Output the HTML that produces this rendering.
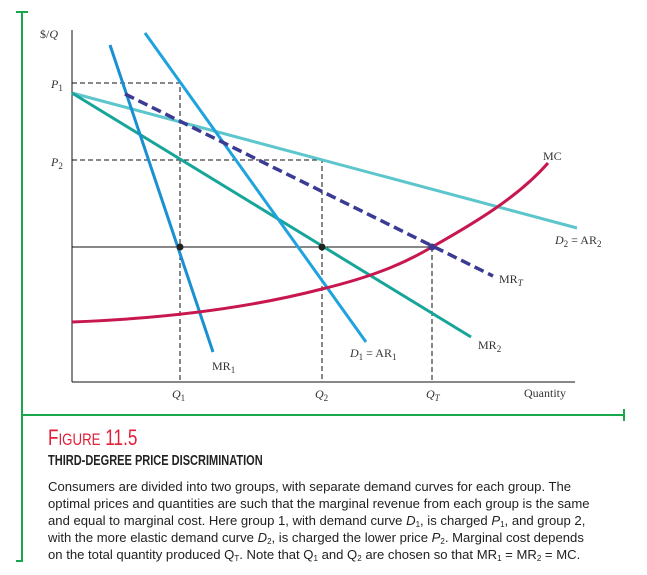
<!DOCTYPE html>
<html><head><meta charset="utf-8"><style>
body{margin:0;width:647px;height:575px;background:#fff;overflow:hidden;position:relative;font-family:"Liberation Sans",sans-serif}
svg{position:absolute;left:0;top:0}
.cap{position:absolute;left:48px;color:#222}
sub{font-size:8px;line-height:0;vertical-align:-2px}
</style></head><body>
<svg width="647" height="575" font-family="Liberation Serif, serif" font-size="12" fill="#333">
<line x1="22" y1="12" x2="22" y2="562" stroke="#1aa64a" stroke-width="2"/>
<line x1="16" y1="12" x2="28" y2="12" stroke="#1aa64a" stroke-width="2"/>
<line x1="16" y1="561" x2="23" y2="561" stroke="#1aa64a" stroke-width="2"/>
<line x1="22" y1="415" x2="625" y2="415" stroke="#1aa64a" stroke-width="2"/>
<line x1="624" y1="409" x2="624" y2="421" stroke="#1aa64a" stroke-width="2"/>
<line x1="72" y1="30" x2="72" y2="382" stroke="#111" stroke-width="1"/>
<line x1="72" y1="382" x2="575" y2="382" stroke="#111" stroke-width="1"/>
<g stroke="#111" stroke-width="1" stroke-dasharray="5,3" fill="none">
<path d="M72 83H180V382"/><path d="M72 160H322V382"/><path d="M432 247V382"/>
</g>
<line x1="72" y1="247" x2="432" y2="247" stroke="#111" stroke-width="1"/>
<line x1="72" y1="93" x2="577" y2="228" stroke="#5cc6cc" stroke-width="3"/>
<line x1="72" y1="93" x2="471" y2="337" stroke="#17a59a" stroke-width="3"/>
<line x1="145" y1="33" x2="366" y2="342" stroke="#1ea3de" stroke-width="3"/>
<line x1="110" y1="45" x2="213" y2="352" stroke="#1a8fd2" stroke-width="3"/>
<line x1="125" y1="94" x2="493" y2="276" stroke="#3b3b93" stroke-width="3.5" stroke-dasharray="10,5"/>
<path d="M72 322 C180 318 260 305 322 289 C380 275 410 260 432 247 C480 220 520 195 548 163" stroke="#c8174f" stroke-width="3" fill="none"/>
<circle cx="180" cy="247" r="3.5" fill="#222"/><circle cx="322" cy="247" r="3.5" fill="#222"/><circle cx="432" cy="247" r="3.5" fill="#3b3b93"/>
<text x="40" y="38">$/<tspan font-style="italic">Q</tspan></text>
<text x="51" y="88" font-style="italic">P<tspan font-size="9" dy="3" font-style="normal">1</tspan></text>
<text x="51" y="166" font-style="italic">P<tspan font-size="9" dy="3" font-style="normal">2</tspan></text>
<text x="172" y="398" font-style="italic">Q<tspan font-size="9" dy="3" font-style="normal">1</tspan></text>
<text x="315" y="398" font-style="italic">Q<tspan font-size="9" dy="3" font-style="normal">2</tspan></text>
<text x="426" y="398" font-style="italic">Q<tspan font-size="9" dy="3">T</tspan></text>
<text x="524" y="397">Quantity</text>
<text x="543" y="160">MC</text>
<text x="555" y="244"><tspan font-style="italic">D</tspan><tspan font-size="9" dy="3">2</tspan><tspan dy="-3"> = AR</tspan><tspan font-size="9" dy="3">2</tspan></text>
<text x="499" y="283">MR<tspan font-size="9" dy="3" font-style="italic">T</tspan></text>
<text x="478" y="349">MR<tspan font-size="9" dy="3">2</tspan></text>
<text x="350" y="357"><tspan font-style="italic">D</tspan><tspan font-size="9" dy="3">1</tspan><tspan dy="-3"> = AR</tspan><tspan font-size="9" dy="3">1</tspan></text>
<text x="212" y="370">MR<tspan font-size="9" dy="3">1</tspan></text>
</svg>
<div class="cap" style="top:425px;color:#e0203a;font-size:22px;transform:scaleX(0.78);transform-origin:left;white-space:nowrap">F<span style="font-size:17px">IGURE</span> 11.5</div>
<div class="cap" style="top:453px;font-size:14.5px;font-weight:bold;transform:scaleX(0.76);transform-origin:left;white-space:nowrap">THIRD-DEGREE PRICE DISCRIMINATION</div>
<div class="cap" style="top:478px;font-size:13.1px;line-height:17px;width:600px;white-space:nowrap">
Consumers are divided into two groups, with separate demand curves for each group. The<br>
optimal prices and quantities are such that the marginal revenue from each group is the same<br>
and equal to marginal cost. Here group 1, with demand curve <i>D</i><sub>1</sub>, is charged <i>P</i><sub>1</sub>, and group 2,<br>
with the more elastic demand curve <i>D</i><sub>2</sub>, is charged the lower price <i>P</i><sub>2</sub>. Marginal cost depends<br>
on the total quantity produced Q<sub>T</sub>. Note that Q<sub>1</sub> and Q<sub>2</sub> are chosen so that MR<sub>1</sub> = MR<sub>2</sub> = MC.
</div>
</body></html>
